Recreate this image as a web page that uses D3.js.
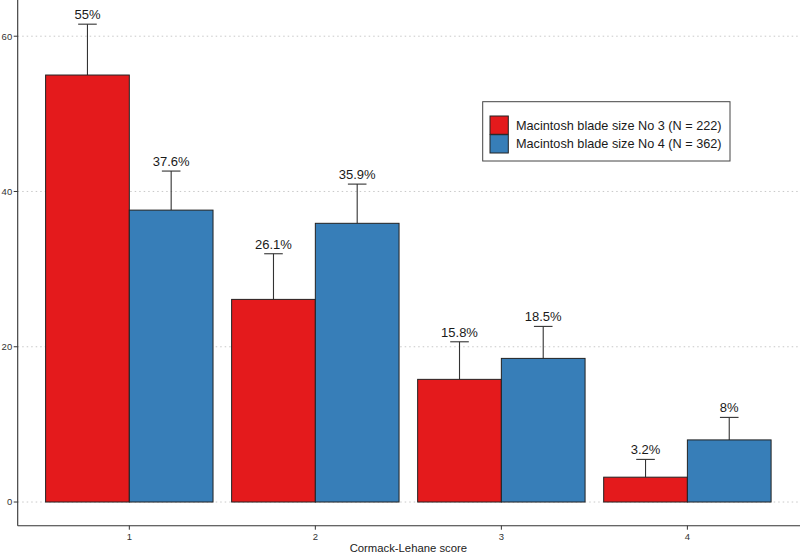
<!DOCTYPE html>
<html><head><meta charset="utf-8">
<script src="https://cdn.jsdelivr.net/npm/d3@7"></script>
<style>body{margin:0;background:#fff}svg{display:block;font-family:"Liberation Sans",Arial,sans-serif}</style>
</head><body><svg id="c" width="800" height="554"></svg>
<script>
const categories = ["1","2","3","4"];
const seriesNames = ["Macintosh blade size No 3 (N = 222)","Macintosh blade size No 4 (N = 362)"];
const seriesColors = ["#E41A1C","#377EB8"];
const values3 = [55, 26.1, 15.8, 3.2];
const values4 = [37.6, 35.9, 18.5, 8];
const errUpper3 = [61.55, 31.98, 20.64, 5.49];
const errUpper4 = [42.63, 40.95, 22.62, 10.9];
const labels3 = ["55%","26.1%","15.8%","3.2%"];
const labels4 = ["37.6%","35.9%","18.5%","8%"];
const yTicks = [0,20,40,60];

const svg = d3.select("#c");
const L = 17.7, R = 799, T = 0.5, B = 525.7;

const x = d3.scaleBand().domain(categories).range([L, R]).paddingInner(0.0).paddingOuter(0);
// ggplot-like: discrete expansion 0.6 units each side
const step = (R - L) / (categories.length - 1 + 1.2);
const xc = c => L + (0.6 + categories.indexOf(c)) * step;
const y = d3.scaleLinear().domain([-3.05, 64.6]).range([B, T]);

const barW = step * 0.9 / 2;

// gridlines
svg.append("g").selectAll("line").data(yTicks).join("line")
  .attr("x1", L).attr("x2", R).attr("y1", d => y(d)).attr("y2", d => y(d))
  .attr("stroke", "#bbb").attr("stroke-width", 0.8).attr("stroke-dasharray", "1.5,3");

const data = [];
categories.forEach((c, i) => {
  data.push({c, s: 0, v: values3[i], e: errUpper3[i], lab: labels3[i]});
  data.push({c, s: 1, v: values4[i], e: errUpper4[i], lab: labels4[i]});
});
const bx = d => xc(d.c) - barW + d.s * barW;
const bcx = d => bx(d) + barW / 2;

// error bars (drawn behind bars)
const eg = svg.append("g").attr("stroke", "#333").attr("stroke-width", 1.1);
eg.selectAll("line.v").data(data).join("line")
  .attr("x1", bcx).attr("x2", bcx).attr("y1", d => y(d.v)).attr("y2", d => y(d.e));
eg.selectAll("line.h").data(data).join("line")
  .attr("x1", d => bcx(d) - step * 0.05).attr("x2", d => bcx(d) + step * 0.05)
  .attr("y1", d => y(d.e)).attr("y2", d => y(d.e));

svg.append("g").selectAll("rect").data(data).join("rect")
  .attr("x", bx).attr("width", barW)
  .attr("y", d => y(d.v)).attr("height", d => y(0) - y(d.v))
  .attr("fill", d => seriesColors[d.s]).attr("stroke", "#222").attr("stroke-width", 1);

svg.append("g").selectAll("text").data(data).join("text")
  .attr("x", bcx).attr("y", d => y(d.e) - 5)
  .attr("text-anchor", "middle").attr("font-size", 13).attr("fill", "#1a1a1a")
  .text(d => d.lab);

// axes
const ga = svg.append("g").attr("stroke", "#333");
ga.append("line").attr("x1", L).attr("x2", L).attr("y1", 0).attr("y2", B).attr("stroke-width", 1.1);
ga.append("line").attr("x1", L).attr("x2", 800).attr("y1", B).attr("y2", B).attr("stroke-width", 1.1);
ga.selectAll("line.yt").data(yTicks).join("line").attr("class","yt")
  .attr("x1", L - 4).attr("x2", L).attr("y1", d => y(d)).attr("y2", d => y(d));
ga.selectAll("line.xt").data(categories).join("line").attr("class","xt")
  .attr("x1", xc).attr("x2", xc).attr("y1", B).attr("y2", B + 4);

svg.append("g").selectAll("text").data(yTicks).join("text")
  .attr("x", L - 5.5).attr("y", d => y(d)).attr("dy", "0.35em")
  .attr("text-anchor", "end").attr("font-size", 9.5).attr("fill", "#333").text(d => d);
svg.append("g").selectAll("text").data(categories).join("text")
  .attr("x", xc).attr("y", B + 14).attr("text-anchor", "middle")
  .attr("font-size", 9.5).attr("fill", "#333").text(d => d);

svg.append("text").attr("x", (L + R) / 2).attr("y", 552).attr("text-anchor", "middle")
  .attr("font-size", 11.3).attr("fill", "#222").text("Cormack-Lehane score");

// legend
const lg = svg.append("g");
lg.append("rect").attr("x", 482.7).attr("y", 101.7).attr("width", 247.3).attr("height", 59.3)
  .attr("fill", "#fff").attr("stroke", "#444").attr("stroke-width", 1);
seriesNames.forEach((n, i) => {
  lg.append("rect").attr("x", 490).attr("y", 116 + i * 18.7).attr("width", 18.3).attr("height", 18.3)
    .attr("fill", seriesColors[i]).attr("stroke", "#222").attr("stroke-width", 1);
  lg.append("text").attr("x", 516).attr("y", 125.3 + i * 18.7).attr("dy", "0.35em")
    .attr("font-size", 12.7).attr("fill", "#1a1a1a").text(n);
});
</script></body></html>
